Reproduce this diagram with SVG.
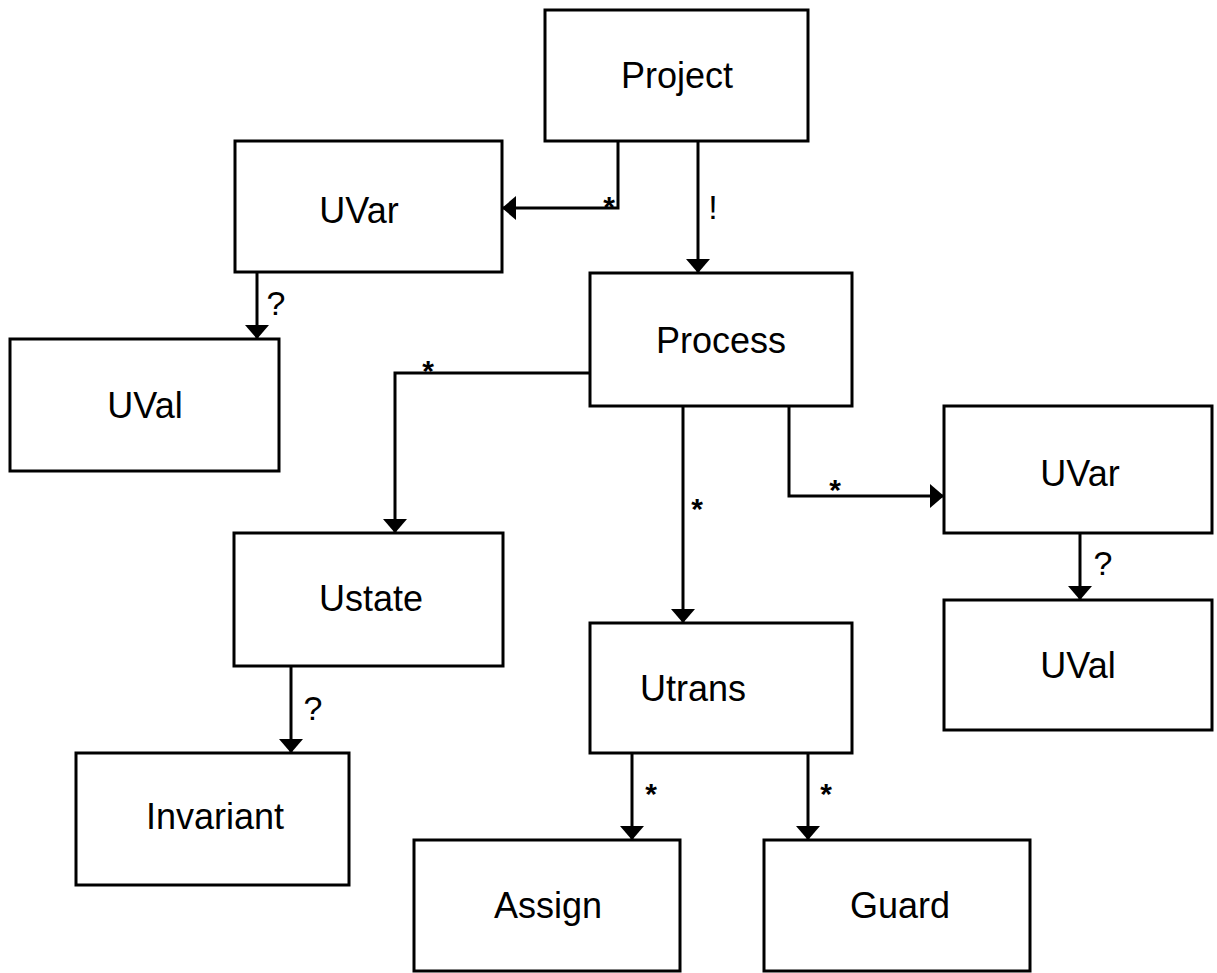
<svg xmlns="http://www.w3.org/2000/svg" width="1217" height="973" viewBox="0 0 1217 973">
<style>
.box{fill:#fff;stroke:#000;stroke-width:3}
.lbl{font-family:"Liberation Sans",Arial,sans-serif;font-size:36px;fill:#000;text-anchor:middle}
.conn{fill:none;stroke:#000;stroke-width:3}
.m{font-family:"Liberation Sans",Arial,sans-serif;font-size:34px;fill:#000;text-anchor:middle}
.s{font-family:"Liberation Sans",Arial,sans-serif;font-size:30px;font-weight:bold;fill:#000;text-anchor:middle}
</style>
<defs>
<marker id="arr" viewBox="0 0 14 24" refX="14" refY="12" markerWidth="14" markerHeight="24" markerUnits="userSpaceOnUse" orient="auto">
<path d="M0,0 L14,12 L0,24 Z" fill="#000"/>
</marker>
</defs>
<rect width="1217" height="973" fill="#fff"/>
<g id="connectors">
<path class="conn" d="M618,141 V208 H502" marker-end="url(#arr)"/>
<path class="conn" d="M698,141 V273" marker-end="url(#arr)"/>
<path class="conn" d="M257,272 V339" marker-end="url(#arr)"/>
<path class="conn" d="M590,373 H395 V533" marker-end="url(#arr)"/>
<path class="conn" d="M683,406 V623" marker-end="url(#arr)"/>
<path class="conn" d="M789,406 V496 H944" marker-end="url(#arr)"/>
<path class="conn" d="M1080,533 V600" marker-end="url(#arr)"/>
<path class="conn" d="M291,666 V753" marker-end="url(#arr)"/>
<path class="conn" d="M632,753 V840" marker-end="url(#arr)"/>
<path class="conn" d="M808,753 V840" marker-end="url(#arr)"/>
<text class="s" x="609" y="217">*</text>
<text class="m" x="713" y="219">!</text>
<text class="m" x="276" y="315">?</text>
<text class="s" x="428" y="381">*</text>
<text class="s" x="697" y="519">*</text>
<text class="s" x="835" y="500">*</text>
<text class="m" x="1103" y="575">?</text>
<text class="m" x="313" y="720">?</text>
<text class="s" x="651" y="804">*</text>
<text class="s" x="826" y="804">*</text>
</g>
<g id="project"><rect class="box" x="545" y="10" width="263" height="131"/><text class="lbl" x="677" y="88">Project</text></g>
<g id="uvar1"><rect class="box" x="235" y="141" width="267" height="131"/><text class="lbl" x="359" y="223">UVar</text></g>
<g id="uval1"><rect class="box" x="10" y="339" width="269" height="132"/><text class="lbl" x="145" y="418">UVal</text></g>
<g id="process"><rect class="box" x="590" y="273" width="262" height="133"/><text class="lbl" x="721" y="353">Process</text></g>
<g id="uvar2"><rect class="box" x="944" y="406" width="268" height="127"/><text class="lbl" x="1080" y="486">UVar</text></g>
<g id="uval2"><rect class="box" x="944" y="600" width="268" height="130"/><text class="lbl" x="1078" y="678">UVal</text></g>
<g id="ustate"><rect class="box" x="234" y="533" width="269" height="133"/><text class="lbl" x="371" y="611">Ustate</text></g>
<g id="utrans"><rect class="box" x="590" y="623" width="262" height="130"/><text class="lbl" x="693" y="701">Utrans</text></g>
<g id="invariant"><rect class="box" x="76" y="753" width="273" height="132"/><text class="lbl" x="215" y="829">Invariant</text></g>
<g id="assign"><rect class="box" x="414" y="840" width="266" height="131"/><text class="lbl" x="548" y="918">Assign</text></g>
<g id="guard"><rect class="box" x="764" y="840" width="266" height="131"/><text class="lbl" x="900" y="918">Guard</text></g>
</svg>
